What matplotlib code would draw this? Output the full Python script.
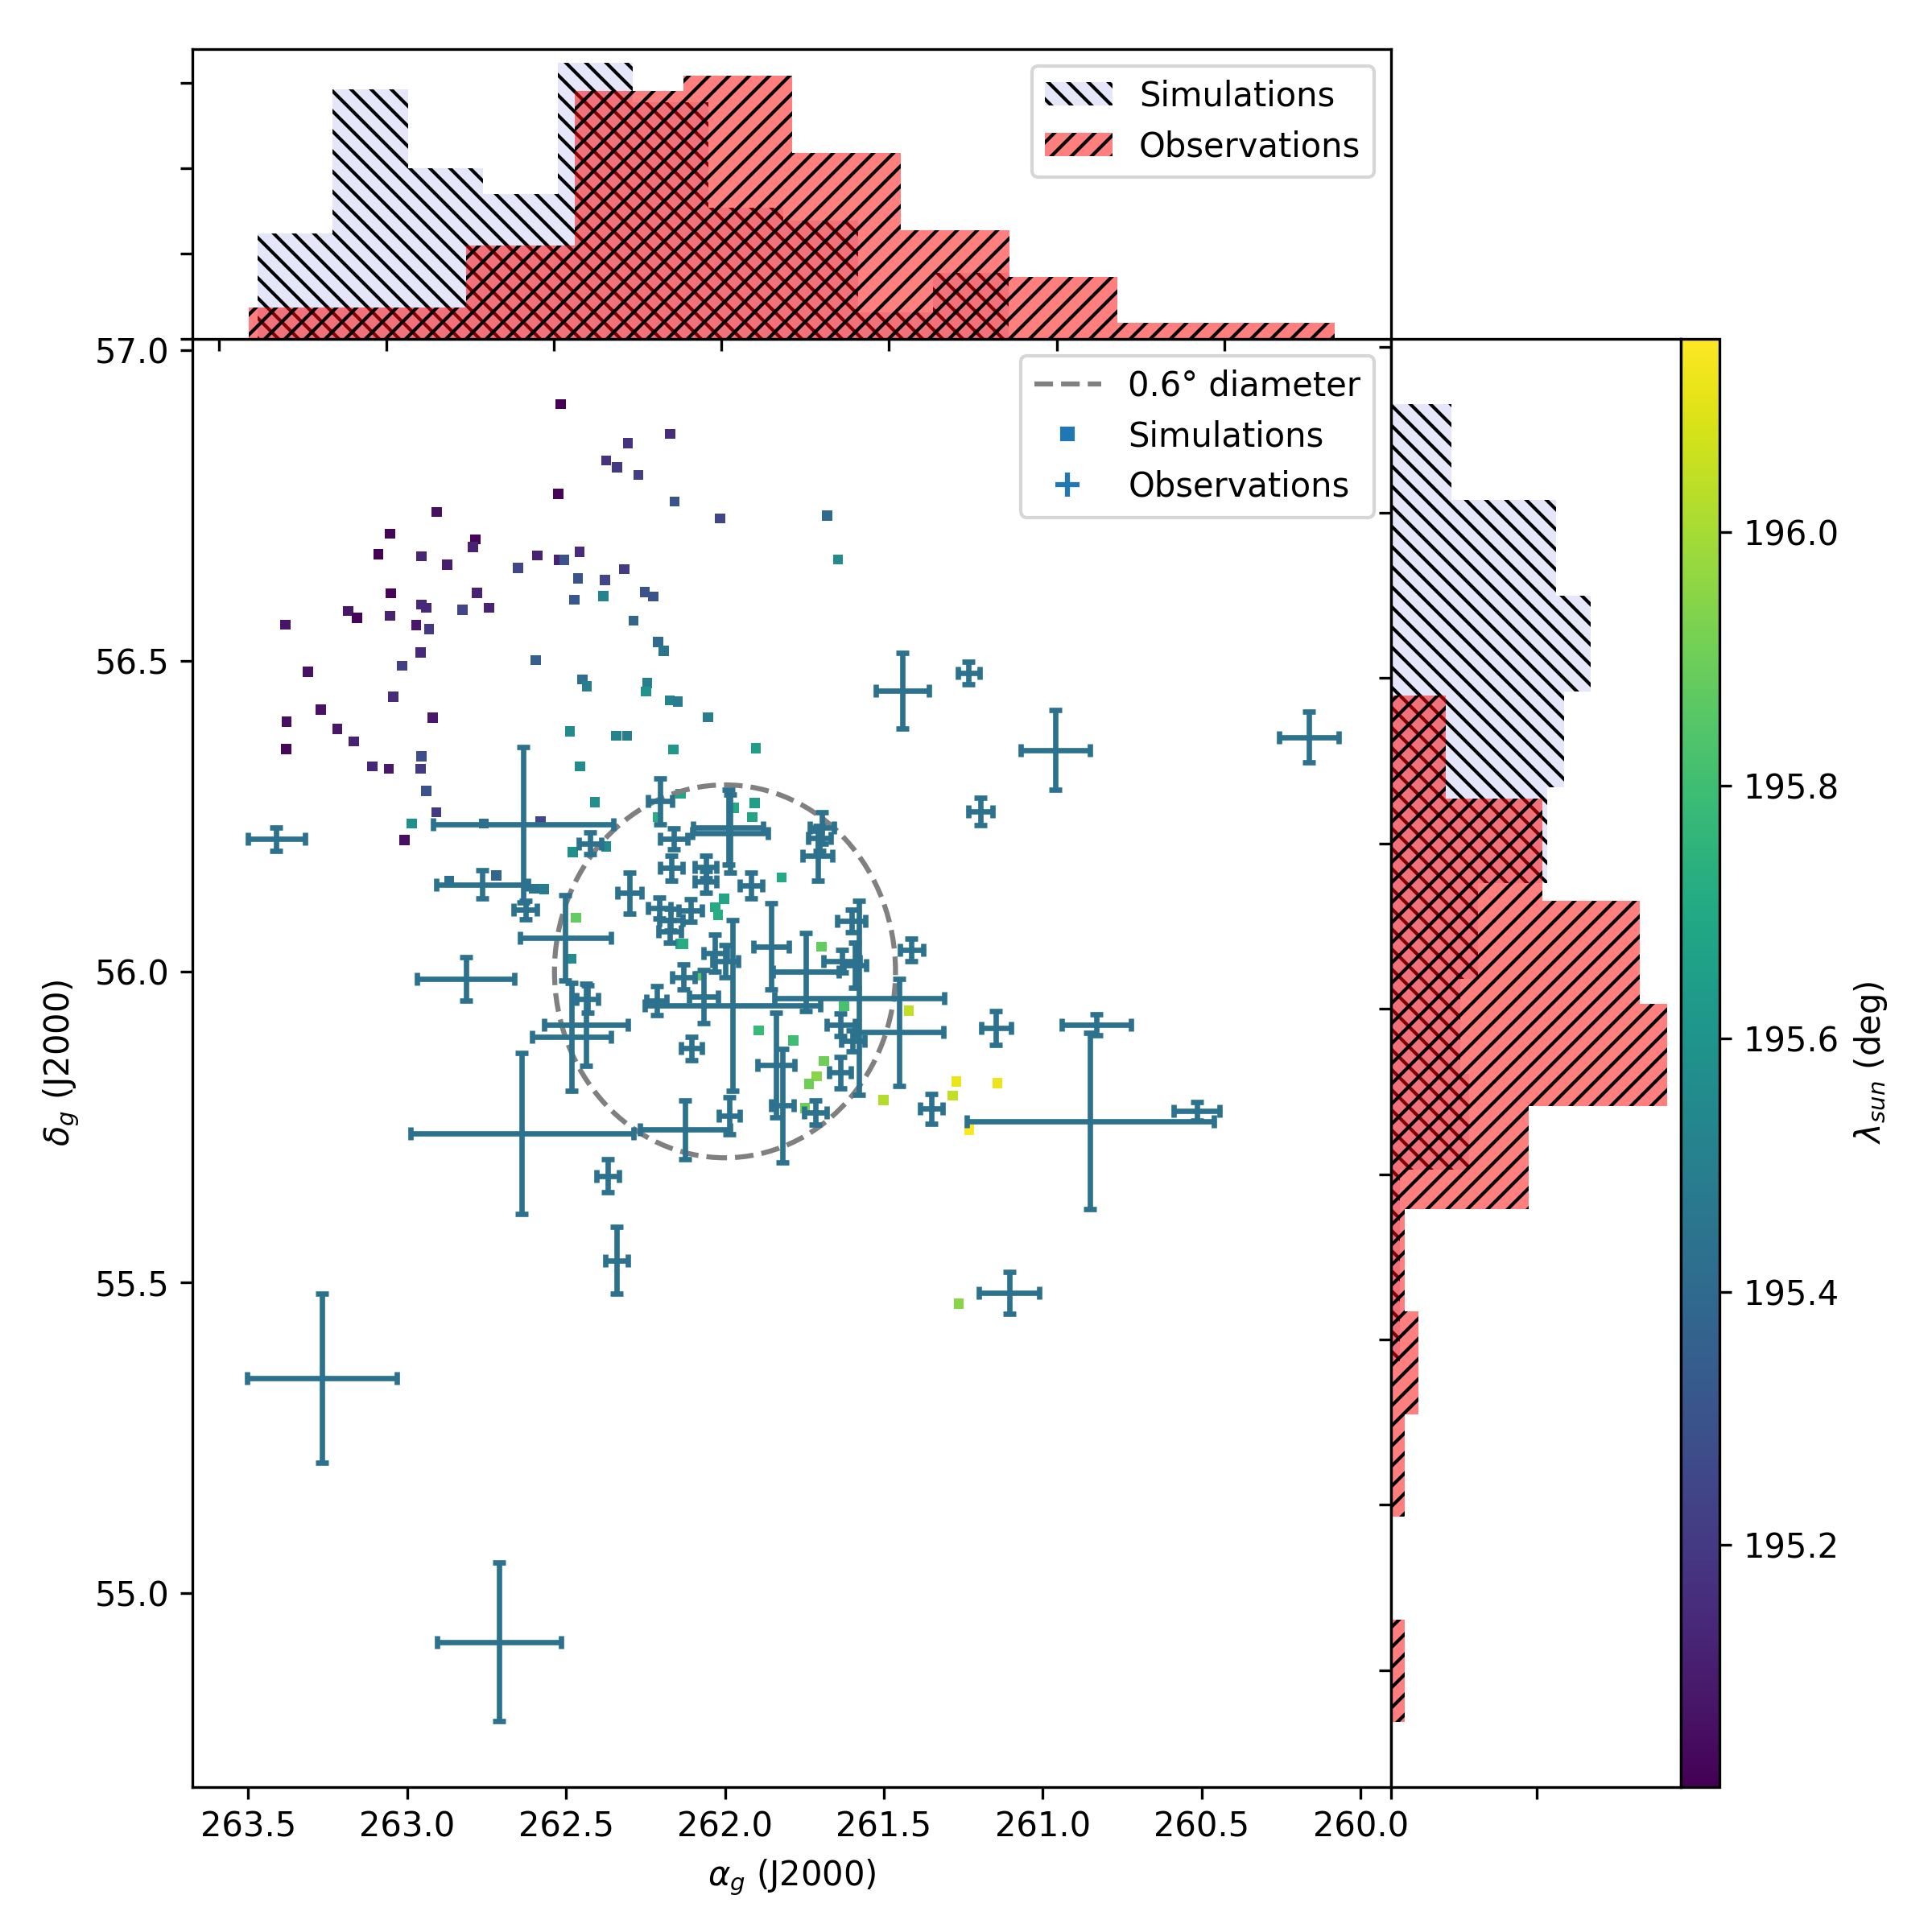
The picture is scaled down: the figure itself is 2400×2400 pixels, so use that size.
import matplotlib
matplotlib.use("Agg")
import matplotlib.pyplot as plt
import numpy as np
from matplotlib.lines import Line2D
from matplotlib.patches import Ellipse

# simulated meteors: RA, Dec (deg), solar longitude (deg)
sim_ra = [262.517, 262.172, 262.305, 262.374, 262.340, 262.272, 262.524, 262.159, 262.016, 262.907,
          263.054, 262.785, 262.793, 263.091, 262.955, 262.874, 262.591, 262.522, 262.505, 262.458,
          262.651, 262.463, 262.378, 262.317, 263.052, 262.781, 262.383, 262.252, 262.226, 262.474,
          263.186, 263.158, 262.955, 262.940, 262.826, 262.743, 263.054, 263.383, 262.972, 262.931,
          262.288, 262.958, 263.016, 262.595, 262.211, 262.193, 263.312, 262.449, 262.435, 262.245,
          262.249, 262.174, 262.149, 262.054, 263.044, 263.272, 263.379, 263.220, 262.920, 263.168,
          263.381, 262.488, 262.342, 262.308, 262.163, 261.903, 262.955, 263.109, 263.058, 262.958,
          262.456, 262.940, 262.409, 262.140, 261.907, 261.914, 262.908, 261.972, 261.678, 261.645,
          263.008, 262.986, 262.759, 262.580, 262.868, 262.719, 262.600, 262.569, 262.479, 262.374,
          262.469, 262.483, 261.822, 262.003, 262.031, 262.022, 262.140, 262.131, 262.083, 261.894,
          261.785, 262.212, 261.696, 261.625, 261.689, 261.711, 261.736, 261.748, 261.422, 261.501,
          261.272, 261.284, 261.143, 261.232, 261.265]
sim_dec = [56.913, 56.865, 56.850, 56.822, 56.811, 56.799, 56.768, 56.756, 56.729, 56.739,
           56.704, 56.695, 56.683, 56.671, 56.668, 56.654, 56.669, 56.662, 56.662, 56.675,
           56.649, 56.632, 56.630, 56.647, 56.608, 56.609, 56.604, 56.610, 56.603, 56.598,
           56.580, 56.569, 56.590, 56.585, 56.582, 56.585, 56.572, 56.558, 56.557, 56.551,
           56.564, 56.513, 56.492, 56.501, 56.530, 56.516, 56.482, 56.470, 56.459, 56.464,
           56.450, 56.436, 56.434, 56.409, 56.442, 56.421, 56.402, 56.390, 56.408, 56.370,
           56.358, 56.386, 56.379, 56.379, 56.357, 56.359, 56.346, 56.330, 56.326, 56.326,
           56.330, 56.290, 56.272, 56.286, 56.271, 56.248, 56.256, 56.263, 56.733, 56.663,
           56.211, 56.238, 56.238, 56.242, 56.145, 56.154, 56.133, 56.132, 56.192, 56.201,
           56.086, 56.020, 56.151, 56.117, 56.103, 56.091, 56.044, 56.044, 55.993, 55.905,
           55.889, 56.248, 56.040, 55.944, 55.856, 55.831, 55.819, 55.780, 55.937, 55.793,
           55.823, 55.800, 55.820, 55.745, 55.465]
sim_lam = [195.01, 195.15, 195.17, 195.17, 195.20, 195.22, 195.02, 195.30, 195.25, 195.05,
           195.02, 195.02, 195.12, 195.01, 195.13, 195.10, 195.12, 195.12, 195.30, 195.15,
           195.25, 195.30, 195.25, 195.20, 195.02, 195.12, 195.52, 195.30, 195.30, 195.32,
           195.08, 195.02, 195.14, 195.14, 195.25, 195.12, 195.12, 195.07, 195.08, 195.20,
           195.38, 195.14, 195.22, 195.35, 195.40, 195.45, 195.06, 195.42, 195.50, 195.50,
           195.60, 195.52, 195.48, 195.50, 195.15, 195.06, 195.05, 195.08, 195.08, 195.12,
           195.03, 195.55, 195.52, 195.50, 195.62, 195.65, 195.28, 195.13, 195.08, 195.20,
           195.55, 195.30, 195.58, 195.68, 195.65, 195.68, 195.20, 195.70, 195.40, 195.55,
           195.05, 195.58, 195.42, 195.25, 195.42, 195.38, 195.45, 195.48, 195.58, 195.55,
           195.88, 195.55, 195.70, 195.68, 195.70, 195.72, 195.68, 195.72, 195.85, 195.78,
           195.80, 195.72, 195.88, 195.82, 195.90, 195.95, 195.90, 195.90, 196.05, 196.02,
           196.12, 196.05, 196.12, 196.15, 195.95]

# observed meteors: RA, Dec and their uncertainties (deg)
obs_ra = [263.412, 262.635, 262.764, 262.628, 262.425, 262.815, 262.502, 262.433, 262.437, 262.483,
          262.639, 262.369, 262.341, 262.203, 262.161, 261.990, 261.984, 262.168, 262.061, 262.061,
          261.918, 262.300, 262.206, 262.109, 262.170, 262.174, 262.031, 261.976, 262.215, 262.130,
          262.067, 261.999, 262.106, 261.855, 262.125, 261.986, 261.840, 261.819, 261.442, 261.233,
          260.960, 260.163, 261.196, 261.695, 261.703, 261.709, 261.746, 261.602, 261.578, 261.632,
          261.591, 261.413, 261.451, 261.636, 261.598, 261.638, 261.715, 261.350, 261.147, 260.831,
          260.851, 260.515, 263.268, 262.710, 261.106]
obs_dec = [56.213, 56.236, 56.140, 56.099, 56.206, 55.988, 56.054, 55.956, 55.914, 55.895,
           55.739, 55.671, 55.535, 56.274, 56.213, 56.232, 56.222, 56.166, 56.168, 56.144,
           56.138, 56.126, 56.102, 56.098, 56.083, 56.064, 56.029, 55.945, 55.953, 55.991,
           55.959, 56.016, 55.876, 56.040, 55.745, 55.768, 55.849, 55.784, 56.452, 56.480,
           56.356, 56.377, 56.257, 56.231, 56.214, 56.186, 55.999, 56.081, 55.957, 56.016,
           56.010, 56.035, 55.902, 55.914, 55.888, 55.837, 55.773, 55.779, 55.909, 55.914,
           55.759, 55.775, 55.346, 54.921, 55.483]
obs_ra_err = [0.090, 0.283, 0.145, 0.037, 0.036, 0.153, 0.144, 0.034, 0.132, 0.125,
              0.350, 0.035, 0.036, 0.038, 0.044, 0.110, 0.118, 0.035, 0.035, 0.035,
              0.035, 0.038, 0.036, 0.036, 0.036, 0.036, 0.036, 0.276, 0.032, 0.035,
              0.045, 0.040, 0.033, 0.056, 0.142, 0.033, 0.058, 0.035, 0.083, 0.034,
              0.109, 0.094, 0.037, 0.038, 0.036, 0.046, 0.103, 0.044, 0.267, 0.057,
              0.036, 0.036, 0.139, 0.044, 0.036, 0.035, 0.035, 0.036, 0.047, 0.109,
              0.389, 0.072, 0.235, 0.195, 0.094]
obs_dec_err = [0.019, 0.125, 0.023, 0.015, 0.018, 0.035, 0.069, 0.022, 0.066, 0.087,
               0.130, 0.027, 0.054, 0.037, 0.017, 0.060, 0.063, 0.020, 0.018, 0.018,
               0.021, 0.033, 0.017, 0.018, 0.018, 0.018, 0.030, 0.137, 0.023, 0.020,
               0.043, 0.026, 0.019, 0.069, 0.047, 0.030, 0.084, 0.091, 0.061, 0.018,
               0.064, 0.041, 0.022, 0.025, 0.020, 0.040, 0.063, 0.018, 0.156, 0.018,
               0.036, 0.018, 0.086, 0.018, 0.017, 0.025, 0.019, 0.024, 0.027, 0.017,
               0.142, 0.015, 0.136, 0.128, 0.034]
obs_lam = 195.44

# marginal histograms: bin ranges and counts (low to high value)
sim_ra_range = (261.144, 263.384)
sim_ra_counts = [5, 2, 9, 10, 18, 21, 11, 13, 19, 8]
obs_ra_range = (260.17, 263.41)
obs_ra_counts = [1, 1, 4, 7, 12, 17, 16, 6, 2, 2]
sim_dec_range = (55.467, 56.914)
sim_dec_counts = [1, 1, 9, 8, 10, 18, 20, 23, 19, 7]
obs_dec_range = (54.922, 56.473)
obs_dec_counts = [1, 0, 1, 2, 1, 10, 20, 18, 11, 4]

lam_min, lam_max = 195.009, 196.153


def _hist(ax, rng, counts, orientation, **kw):
    edges = np.linspace(rng[0], rng[1], len(counts) + 1)
    centers = 0.5 * (edges[:-1] + edges[1:])
    ax.hist(centers, bins=edges, weights=counts, density=True, histtype="stepfilled",
            orientation=orientation, **kw)


fig = plt.figure(figsize=(8, 8), dpi=300)
ax = fig.add_axes([0.0997, 0.0752, 0.6202, 0.7495])
ax_top = fig.add_axes([0.0997, 0.8247, 0.6202, 0.1499])
ax_right = fig.add_axes([0.7199, 0.0752, 0.1501, 0.7495])
cax = fig.add_axes([0.87, 0.0752, 0.02, 0.7495])

cmap = plt.get_cmap("viridis")
norm = plt.Normalize(lam_min, lam_max)

sc = ax.scatter(sim_ra, sim_dec, c=sim_lam, cmap=cmap, norm=norm, marker="s", s=9, linewidths=0)
ax.errorbar(obs_ra, obs_dec, xerr=obs_ra_err, yerr=obs_dec_err, fmt="none",
            ecolor=cmap(norm(obs_lam)), elinewidth=1.6, capsize=2, capthick=1.6)
ax.add_patch(Ellipse((262.0, 56.0), width=0.6 / np.cos(np.radians(56.0)), height=0.6,
                     fill=False, ls="--", ec="gray", lw=1.5))
ax.set_xlim(263.675, 259.905)
ax.set_ylim(54.688, 57.018)
ax.set_xlabel(r"$\alpha_g$ (J2000)")
ax.set_ylabel(r"$\delta_g$ (J2000)")
handles = [
    Line2D([], [], color="gray", ls="--", lw=1.5, label="0.6° diameter"),
    Line2D([], [], color="C0", marker="s", ls="none", ms=3.5, label="Simulations"),
    Line2D([], [], color="C0", marker="+", ls="none", ms=7, mew=1.5, label="Observations"),
]
ax.legend(handles=handles, loc="upper right")

# top: RA distributions
_hist(ax_top, sim_ra_range, sim_ra_counts, "vertical", color="lavender", hatch="\\\\\\\\", label="Simulations")
_hist(ax_top, obs_ra_range, obs_ra_counts, "vertical", color="red", alpha=0.5, hatch="////", label="Observations")
ax_top.set_xlim(263.578, 260.003)
ax_top.set_ylim(0, 0.849)
ax_top.set_yticks([0, 0.25, 0.5, 0.75])
ax_top.tick_params(labelbottom=False, labelleft=False)
ax_top.legend(loc="upper right")

# right: Dec distributions
_hist(ax_right, sim_dec_range, sim_dec_counts, "horizontal", color="lavender", hatch="\\\\\\\\")
_hist(ax_right, obs_dec_range, obs_dec_counts, "horizontal", color="red", alpha=0.5, hatch="////")
ax_right.set_ylim(54.824, 57.013)
ax_right.set_xlim(0, 1.991)
ax_right.set_xticks([0, 1])
ax_right.tick_params(labelbottom=False, labelleft=False)

fig.colorbar(sc, cax=cax, label=r"$\lambda_{sun}$ (deg)")

fig.savefig("out.png", dpi=300)
